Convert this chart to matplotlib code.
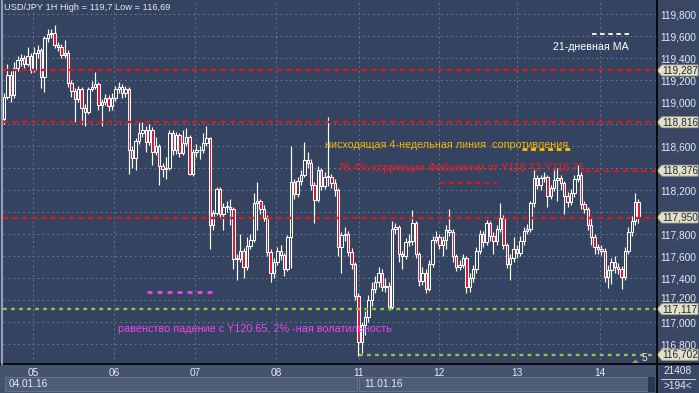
import matplotlib
matplotlib.use("Agg")
import matplotlib.pyplot as plt
from matplotlib.patches import Polygon, Rectangle
from matplotlib.transforms import blended_transform_factory

plt.rcParams["font.family"] = ["Liberation Sans", "DejaVu Sans"]

# USD/JPY, 1H bars, 04.01.16 - 14.01.16 (open of a bar = close of the previous one)
first_open = 118.85
closes = [
    119.05, 119.25, 119.06, 119.31, 119.38, 119.40, 119.35, 119.42, 119.29, 119.45,
    119.47, 119.23, 119.58, 119.62, 119.63, 119.52, 119.50, 119.43, 119.45, 119.17,
    119.10, 119.03, 119.12, 118.95, 118.91, 119.12, 119.14, 119.16, 118.97, 119.00,
    119.04, 118.96, 119.04, 119.12, 119.14, 119.08, 119.12, 118.56, 118.49, 118.65,
    118.72, 118.75, 118.64, 118.75, 118.55, 118.60, 118.42, 118.39, 118.40, 118.72,
    118.56, 118.70, 118.54, 118.63, 118.68, 118.35, 118.55, 118.56, 118.56, 118.63,
    118.67, 117.88, 117.99, 118.21, 117.98, 118.05, 118.05, 118.03, 117.57, 117.57,
    117.65, 117.50, 117.69, 117.75, 118.08, 118.10, 118.03, 117.95, 117.64, 117.45,
    117.55, 117.65, 117.61, 117.48, 117.77, 118.27, 118.16, 118.28, 118.34, 118.47,
    118.45, 118.25, 118.11, 118.38, 118.24, 118.32, 118.32, 118.26, 118.20, 117.68,
    117.79, 117.80, 117.64, 117.53, 117.24, 116.82, 116.97, 117.05, 117.20, 117.30,
    117.36, 117.45, 117.32, 117.33, 117.14, 117.85, 117.86, 117.62, 117.60, 117.73,
    117.74, 117.90, 117.62, 117.37, 117.45, 117.30, 117.53, 117.75, 117.77, 117.70,
    117.75, 117.84, 117.82, 117.60, 117.50, 117.52, 117.58, 117.32, 117.40, 117.48,
    117.65, 117.80, 117.73, 117.90, 117.78, 117.74, 117.85, 117.95, 117.70, 117.53,
    117.58, 117.66, 117.63, 117.74, 117.83, 117.85, 118.08, 118.31, 118.25, 118.31,
    118.32, 118.15, 118.22, 118.29, 118.31, 118.26, 118.15, 118.09, 118.17, 118.30,
    118.34, 118.07, 118.03, 117.88, 117.77, 117.68, 117.66, 117.65, 117.41, 117.47,
    117.55, 117.50, 117.48, 117.41, 117.65, 117.82, 117.92, 118.09, 117.95,
]
highs = [
    119.08, 119.35, 119.28, 119.36, 119.42, 119.44, 119.43, 119.50, 119.45, 119.50,
    119.52, 119.49, 119.60, 119.66, 119.66, 119.70, 119.55, 119.53, 119.56, 119.47,
    119.20, 119.13, 119.15, 119.14, 118.98, 119.14, 119.19, 119.27, 119.18, 119.03,
    119.07, 119.06, 119.08, 119.15, 119.18, 119.16, 119.15, 119.14, 118.60, 118.67,
    118.82, 118.82, 118.78, 118.80, 118.77, 118.68, 118.62, 118.45, 118.50, 118.75,
    118.75, 118.73, 118.72, 118.75, 118.76, 118.70, 118.57, 118.62, 118.60, 118.72,
    118.78, 118.68, 118.02, 118.23, 118.23, 118.08, 118.10, 118.12, 118.05, 117.62,
    117.80, 117.67, 117.77, 117.80, 118.17, 118.27, 118.12, 118.06, 117.97, 117.66,
    117.58, 117.68, 117.70, 117.63, 117.79, 118.60, 118.30, 118.32, 118.38, 118.64,
    118.55, 118.48, 118.27, 118.42, 118.40, 118.36, 118.86, 118.35, 118.30, 118.22,
    117.82, 117.86, 117.83, 117.67, 117.55, 117.26, 117.00, 117.10, 117.25, 117.36,
    117.42, 117.50, 117.48, 117.40, 117.36, 117.92, 117.90, 117.88, 117.65, 117.76,
    117.80, 118.02, 117.92, 117.64, 117.50, 117.48, 117.56, 117.78, 117.83, 117.80,
    117.78, 117.88, 118.03, 117.85, 117.62, 117.56, 117.62, 117.60, 117.45, 117.52,
    117.68, 117.84, 117.83, 117.93, 117.92, 117.82, 117.88, 118.08, 117.97, 117.72,
    117.62, 117.77, 117.70, 117.78, 117.86, 117.89, 118.10, 118.38, 118.34, 118.34,
    118.36, 118.34, 118.25, 118.39, 118.40, 118.34, 118.28, 118.18, 118.21, 118.34,
    118.43, 118.36, 118.10, 118.05, 117.95, 117.80, 117.71, 117.70, 117.67, 117.52,
    117.58, 117.60, 117.54, 117.51, 117.68, 117.86, 117.96, 118.17, 118.12,
]
lows = [
    118.80, 119.03, 119.00, 119.04, 119.28, 119.33, 119.31, 119.33, 119.26, 119.27,
    119.40, 119.13, 119.09, 119.55, 119.58, 119.49, 119.46, 119.40, 119.40, 119.14,
    119.05, 118.82, 119.00, 118.80, 118.78, 118.89, 119.10, 119.12, 118.93, 118.78,
    118.97, 118.92, 118.93, 119.01, 119.08, 119.04, 119.05, 118.35, 118.40, 118.38,
    118.62, 118.68, 118.55, 118.61, 118.43, 118.52, 118.25, 118.32, 118.30, 118.38,
    118.52, 118.53, 118.50, 118.52, 118.60, 118.34, 118.33, 118.50, 118.48, 118.54,
    118.60, 117.66, 117.84, 117.97, 117.95, 117.84, 118.00, 117.88, 117.48, 117.38,
    117.55, 117.40, 117.47, 117.66, 117.73, 117.84, 117.98, 117.92, 117.60, 117.36,
    117.40, 117.52, 117.56, 117.42, 117.46, 117.49, 118.12, 118.14, 118.25, 118.32,
    118.40, 118.20, 117.90, 118.09, 118.20, 118.21, 118.24, 118.22, 118.15, 117.60,
    117.45, 117.74, 117.60, 117.48, 117.20, 116.69, 116.72, 116.88, 117.00, 117.15,
    117.26, 117.32, 117.28, 117.27, 117.11, 117.12, 117.80, 117.55, 117.48, 117.57,
    117.69, 117.70, 117.58, 117.33, 117.34, 117.26, 117.28, 117.50, 117.72, 117.66,
    117.60, 117.66, 117.78, 117.55, 117.46, 117.47, 117.49, 117.26, 117.27, 117.36,
    117.45, 117.62, 117.68, 117.70, 117.74, 117.62, 117.70, 117.82, 117.66, 117.49,
    117.38, 117.55, 117.58, 117.60, 117.70, 117.80, 117.82, 118.05, 118.21, 118.20,
    118.27, 118.05, 118.12, 118.19, 118.10, 118.20, 117.98, 118.05, 118.06, 118.14,
    118.27, 118.03, 117.99, 117.84, 117.70, 117.62, 117.62, 117.61, 117.36, 117.31,
    117.35, 117.45, 117.44, 117.30, 117.38, 117.62, 117.78, 117.88, 117.90,
]

day_labels = ["05", "06", "07", "08", "11", "12", "13", "14"]
week_labels = ["04.01.16", "11.01.16"]
price_ticks = [116.8, 117.0, 117.2, 117.4, 117.6, 117.8, 118.0, 118.2,
               118.4, 118.6, 118.8, 119.0, 119.2, 119.4, 119.6, 119.8]
levels = [119.287, 118.816, 118.376, 117.950, 117.117, 116.702]
level_kind = ["fib", "fib", "fib", "fib", "vol", "vol"]

title = "USD/JPY 1H High = 119,7 Low = 116,69"
ma_label = "21-дневная MA"
note_resist = "нисходящая 4-недельная линия  сопротивления"
note_fib = "76.4% коррекции Фибоначчи от Y118.72-Y116.71"
note_vol = "равенство падение с Y120.65, 2% -ная волатильность"
bars_total = "21408"
bars_visible = ">194<"
wave_label = "5"

# layout, in image pixels
W, H = 699, 393
PL, PR, PB = 3, 657, 364
BAR0, BAR_STEP = 4.0, 3.375
Y_REF_PX, Y_REF_PRICE, PX_PER_YEN = 80, 119.2, 110
day_grid_px = [33, 114, 195, 276, 359, 439, 517, 600]
level_start_px = [PL, PL, 585, PL, PL, 359]

BG = "#34435f"
PANEL = "#394764"
AXIS_BG = "#44526d"
DATEBOX = "#4f5c78"
GRID = "#65748f"
TXT = "#e6eaf2"
WHITE = "#ffffff"
RED = "#e3141e"
CANDLE_RED = "#e8112d"
GREEN = "#8fc63e"
YEL = "#f2b705"
MAG = "#ef45ef"
BOX = "#e4e1c6"


def bx(px):
    return (px - BAR0) / BAR_STEP


fig = plt.figure(figsize=(W / 100, H / 100), dpi=100, facecolor=PANEL)
ax = fig.add_axes([PL / W, (H - PB) / H, (PR - PL) / W, PB / H], facecolor=BG)
ax.set_xlim(bx(PL), bx(PR))
ax.set_ylim(Y_REF_PRICE - (PB - Y_REF_PX) / PX_PER_YEN, Y_REF_PRICE + Y_REF_PX / PX_PER_YEN)

# grid
for p in price_ticks:
    ax.axhline(p, color=GRID, lw=0.7, ls=(0, (2, 3)), zorder=1)
for gx in day_grid_px:
    ax.axvline(bx(gx), color=GRID, lw=0.7, ls=(0, (2, 3)), zorder=1)

# candles
opens = [first_open] + closes[:-1]
idx = list(range(len(closes)))
ax.vlines(idx, lows, highs, colors=WHITE, lw=0.85, zorder=2)
bottoms = [min(o, c) for o, c in zip(opens, closes)]
heights = [max(abs(c - o), 0.008) for o, c in zip(opens, closes)]
faces = [BG if c >= o else CANDLE_RED for o, c in zip(opens, closes)]
ax.bar(idx, heights, bottom=bottoms, width=0.72, color=faces,
       edgecolor=WHITE, linewidth=0.75, zorder=3)

# level lines
for lev, kind, x0 in zip(levels, level_kind, level_start_px):
    col = RED if kind == "fib" else GREEN
    ls = (0, (2.2, 1.8)) if kind == "fib" else (0, (1.6, 1.8))
    ax.hlines(lev, bx(x0), bx(PR), colors=col, lw=1.7, linestyles=[ls], zorder=4)

tr = blended_transform_factory(ax.transAxes, ax.transData)


def fx(px):
    return (px - PL) / (PR - PL)


# right price scale; labels under a level box are blank, 117,200 is nudged up a little
covered = {118.0, 118.4, 118.8}
nudged = {117.2}
ax.yaxis.tick_right()
ax.set_yticks(price_ticks)
ax.set_yticklabels(["" if (p in covered or p in nudged) else f"{p:.3f}".replace(".", ",")
                    for p in price_ticks])
ax.tick_params(axis="y", length=0, pad=2.2, labelsize=7.3, labelcolor=TXT)
ax.set_xticks([])
for s in ax.spines.values():
    s.set_visible(False)
for p in nudged:
    ax.text(fx(660), p + 2.5 / PX_PER_YEN, f"{p:.3f}".replace(".", ","), transform=tr,
            va="center_baseline", ha="left", fontsize=7.3, color=TXT, clip_on=False)

hh = 5.5 / PX_PER_YEN
for lev in levels:
    ax.add_patch(Polygon([(fx(657), lev), (fx(662), lev + hh), (fx(698), lev + hh),
                          (fx(698), lev - hh), (fx(662), lev - hh)], closed=True,
                         transform=tr, clip_on=False, fc=BOX, ec="#a9a68c", lw=0.6, zorder=10))
    ax.text(fx(662.5), lev, f"{lev:.3f}".replace(".", ","), transform=tr, va="center",
            ha="left", fontsize=7.3, color="#1d2740", zorder=11, clip_on=False)

# overlay in pixel coordinates
ov = fig.add_axes([0, 0, 1, 1])
ov.set_xlim(0, W)
ov.set_ylim(H, 0)
ov.axis("off")
ov.patch.set_alpha(0)

ov.add_patch(Rectangle((0, PB), PR, H - PB, fc=AXIS_BG, ec="none"))
ov.add_patch(Rectangle((5, 377), 352, 14, fc=DATEBOX, ec="#6c7892", lw=0.6))
ov.add_patch(Rectangle((359, 377), 289, 14, fc=DATEBOX, ec="#6c7892", lw=0.6))
ov.add_patch(Rectangle((648, 377), 7, 15, fc="#2b3750", ec="none"))
ov.plot([0, W], [PB, PB], color="black", lw=1.2)
ov.plot([PR, PR], [0, H], color="black", lw=1.2)
ov.plot([1.5, 1.5], [0, PB], color="#aab2c2", lw=1.2)

for lab, gx in zip(day_labels, day_grid_px):
    ov.text(gx, 373, lab, ha="center", va="center", fontsize=7.3, color=TXT)
ov.text(9, 384, week_labels[0], ha="left", va="center", fontsize=7.3, color=TXT)
ov.text(364, 384, week_labels[1], ha="left", va="center", fontsize=7.3, color=TXT)
ov.text(678, 371, bars_total, ha="center", va="center", fontsize=7.3, color=TXT)
ov.plot([661, 695], [378.5, 378.5], color=TXT, lw=0.6)
ov.text(678, 386, bars_visible, ha="center", va="center", fontsize=7.3, color=TXT)
ov.add_patch(Polygon([(632, 363), (635.5, 359.5), (639, 363)], closed=True, fc="#8391a8", ec="none"))
ov.text(644, 358, wave_label, ha="center", va="center", fontsize=7.3, color=TXT)

renderer = fig.canvas.get_renderer()


def fit_text(x, y, s, width, **kw):
    t = ov.text(x, y, s, ha="left", va="center", fontsize=8, **kw)
    w = t.get_window_extent(renderer).width
    t.set_fontsize(8 * width / w)
    return t


fit_text(4, 8, title, 166, color=TXT)
fit_text(553, 46.5, ma_label, 76, color=WHITE)
fit_text(325, 145, note_resist, 243, color=YEL)
fit_text(338, 168, note_fib, 247, color="#ff1a1a")
fit_text(118, 329, note_vol, 274, color=MAG)

ov.plot([592, 632], [34, 34], color=WHITE, lw=1.3, ls=(0, (2.5, 2)))
ov.plot([522, 573], [149, 149], color=YEL, lw=2.2, ls=(0, (1.6, 1.2)))
ov.plot([440, 497], [183, 183], color=RED, lw=1.6, ls=(0, (2.2, 1.8)))
ov.plot([147, 215], [292, 292], color=MAG, lw=2.0, ls=(0, (1.8, 1.8)))

fig.savefig("out.png", dpi=100, facecolor=fig.get_facecolor())
